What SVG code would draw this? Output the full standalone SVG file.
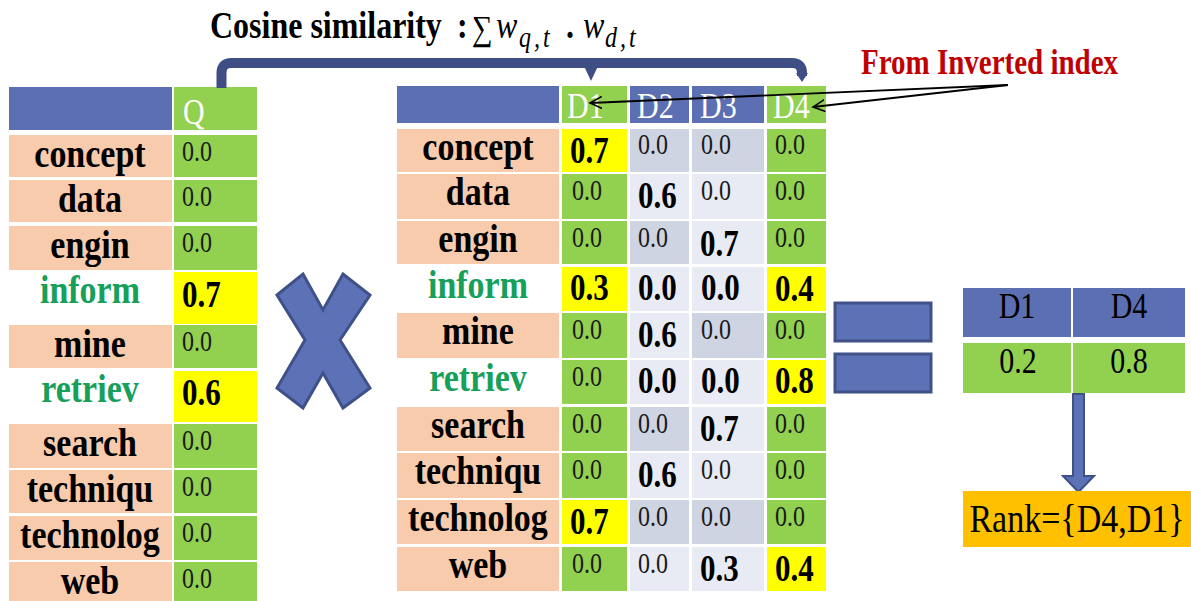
<svg xmlns="http://www.w3.org/2000/svg" width="1191" height="601" viewBox="0 0 1191 601">
<style>
text { font-family: "Liberation Serif", "Times New Roman", "DejaVu Serif", serif; transform-box: fill-box; transform-origin: 50% 80.5%; transform: scaleY(1.2); }
.hd { fill: #5B6FB2; }
.gr { fill: #92D050; }
.ye { fill: #FFFF00; }
.pe { fill: #F7CBAC; }
.wh { fill: #FFFFFF; }
.dk { fill: #CFD4E3; }
.lt { fill: #E8EBF3; }
.lbl { font-size: 34px; font-weight: bold; fill: #000; text-anchor: middle; }
.lg { fill: #16A05A; }
.th { font-size: 24px; fill: #1a1a1a; }
.bd { font-size: 31px; font-weight: bold; fill: #000; }
.ht { font-size: 30px; fill: #FFFFFF; }
.rt { font-size: 30px; fill: #000; text-anchor: middle; }
.shape { fill: #5D72B6; stroke: #3F5188; stroke-width: 3; }
.brace { fill: none; stroke: #3F4E85; stroke-width: 10; }
.ptr { fill: none; stroke: #000; stroke-width: 1.8; }
</style>
<defs>
<marker id="open" markerWidth="14" markerHeight="14" refX="12" refY="6" orient="auto" markerUnits="userSpaceOnUse">
<path d="M0,0 L12,6 L0,12" fill="none" stroke="#000" stroke-width="1.6"/>
</marker>
</defs>
<rect width="1191" height="601" fill="#FFFFFF"/>

<g id="title">
<text x="210" y="38" style="font-size:32px;font-weight:bold">Cosine similarity</text>
<text x="457" y="38" style="font-size:32px;font-weight:bold">:</text>
<text x="472" y="40" style="font-size:29px">∑</text>
<text x="496" y="38" style="font-size:32px;font-style:italic">w</text>
<text x="519" y="47" style="font-size:24px;font-style:italic;letter-spacing:3px">q,t</text>
<text x="566" y="38" style="font-size:32px;font-weight:bold">.</text>
<text x="583" y="38" style="font-size:32px;font-style:italic">w</text>
<text x="605" y="47" style="font-size:24px;font-style:italic;letter-spacing:3px">d,t</text>
</g>

<g id="label-inverted">
<text x="861" y="74" style="font-size:29px;font-weight:bold;fill:#C00000">From Inverted index</text>
</g>

<g id="query-table">
<rect class="hd" x="9" y="87" width="163" height="43"/>
<rect class="gr" x="174" y="87" width="83" height="43"/>
<text class="ht" x="183" y="124">Q</text>

<rect class="pe" x="9" y="135" width="163" height="42"/><rect class="gr" x="174" y="135" width="83" height="42"/>
<text class="lbl" x="90" y="167">concept</text><text class="th" x="182" y="161">0.0</text>

<rect class="pe" x="9" y="180" width="163" height="42"/><rect class="gr" x="174" y="180" width="83" height="42"/>
<text class="lbl" x="90" y="212">data</text><text class="th" x="182" y="206">0.0</text>

<rect class="pe" x="9" y="226" width="163" height="44"/><rect class="gr" x="174" y="226" width="83" height="44"/>
<text class="lbl" x="90" y="258">engin</text><text class="th" x="182" y="252">0.0</text>

<rect class="wh" x="9" y="271" width="163" height="53"/><rect class="ye" x="174" y="272" width="83" height="52"/>
<text class="lbl lg" x="90" y="303">inform</text><text class="bd" x="182" y="307">0.7</text>

<rect class="pe" x="9" y="325" width="163" height="43"/><rect class="gr" x="174" y="325" width="83" height="43"/>
<text class="lbl" x="90" y="357">mine</text><text class="th" x="182" y="351">0.0</text>

<rect class="wh" x="9" y="370" width="163" height="52"/><rect class="ye" x="174" y="371" width="83" height="51"/>
<text class="lbl lg" x="90" y="402">retriev</text><text class="bd" x="182" y="405">0.6</text>

<rect class="pe" x="9" y="424" width="163" height="44"/><rect class="gr" x="174" y="424" width="83" height="44"/>
<text class="lbl" x="90" y="456">search</text><text class="th" x="182" y="450">0.0</text>

<rect class="pe" x="9" y="470" width="163" height="43"/><rect class="gr" x="174" y="470" width="83" height="43"/>
<text class="lbl" x="90" y="502">techniqu</text><text class="th" x="182" y="496">0.0</text>

<rect class="pe" x="9" y="516" width="163" height="44"/><rect class="gr" x="174" y="516" width="83" height="44"/>
<text class="lbl" x="90" y="548">technolog</text><text class="th" x="182" y="542">0.0</text>

<rect class="pe" x="9" y="562" width="163" height="39"/><rect class="gr" x="174" y="562" width="83" height="39"/>
<text class="lbl" x="90" y="594">web</text><text class="th" x="182" y="588">0.0</text>
</g>

<g id="times-sign">
<polygon class="shape" points="277,295 303,274 323,310 343,274 370,295 340,340 370,388 343,408 323,373 303,408 277,388 305,340"/>
</g>

<g id="doc-table">
<rect class="hd" x="397" y="86" width="162" height="37"/>
<rect class="gr" x="562" y="86" width="65" height="37"/>
<rect class="hd" x="630" y="86" width="59" height="37"/>
<rect class="hd" x="692" y="86" width="72" height="37"/>
<rect class="gr" x="767" y="86" width="59" height="37"/>
<text class="ht" x="567" y="118">D1</text>
<text class="ht" x="637" y="118">D2</text>
<text class="ht" x="700" y="118">D3</text>
<text class="ht" x="773" y="118">D4</text>

<!-- concept -->
<rect class="pe" x="397" y="129" width="162" height="43"/><rect class="ye" x="562" y="129" width="65" height="43"/><rect class="dk" x="630" y="129" width="59" height="43"/><rect class="dk" x="692" y="129" width="72" height="43"/><rect class="gr" x="767" y="129" width="59" height="43"/>
<text class="lbl" x="478" y="160">concept</text><text class="bd" x="570" y="163">0.7</text><text class="th" x="638" y="154">0.0</text><text class="th" x="701" y="154">0.0</text><text class="th" x="775" y="154">0.0</text>
<!-- data -->
<rect class="pe" x="397" y="174" width="162" height="45"/><rect class="gr" x="562" y="174" width="65" height="45"/><rect class="lt" x="630" y="174" width="59" height="45"/><rect class="lt" x="692" y="174" width="72" height="45"/><rect class="gr" x="767" y="174" width="59" height="45"/>
<text class="lbl" x="478" y="205">data</text><text class="th" x="572" y="200">0.0</text><text class="bd" x="638" y="208">0.6</text><text class="th" x="701" y="200">0.0</text><text class="th" x="775" y="200">0.0</text>
<!-- engin -->
<rect class="pe" x="397" y="221" width="162" height="43"/><rect class="gr" x="562" y="221" width="65" height="43"/><rect class="dk" x="630" y="221" width="59" height="43"/><rect class="lt" x="692" y="221" width="72" height="43"/><rect class="gr" x="767" y="221" width="59" height="43"/>
<text class="lbl" x="478" y="252">engin</text><text class="th" x="572" y="247">0.0</text><text class="th" x="638" y="247">0.0</text><text class="bd" x="700" y="256">0.7</text><text class="th" x="775" y="247">0.0</text>
<!-- inform -->
<rect class="wh" x="397" y="267" width="162" height="44"/><rect class="ye" x="562" y="267" width="65" height="44"/><rect class="lt" x="630" y="267" width="59" height="44"/><rect class="lt" x="692" y="267" width="72" height="44"/><rect class="ye" x="767" y="267" width="59" height="44"/>
<text class="lbl lg" x="478" y="298">inform</text><text class="bd" x="570" y="300">0.3</text><text class="bd" x="638" y="300">0.0</text><text class="bd" x="701" y="300">0.0</text><text class="bd" x="775" y="301">0.4</text>
<!-- mine -->
<rect class="pe" x="397" y="313" width="162" height="45"/><rect class="gr" x="562" y="313" width="65" height="45"/><rect class="lt" x="630" y="313" width="59" height="45"/><rect class="dk" x="692" y="313" width="72" height="45"/><rect class="gr" x="767" y="313" width="59" height="45"/>
<text class="lbl" x="478" y="344">mine</text><text class="th" x="572" y="339">0.0</text><text class="bd" x="638" y="347">0.6</text><text class="th" x="701" y="339">0.0</text><text class="th" x="775" y="339">0.0</text>
<!-- retriev -->
<rect class="wh" x="397" y="360" width="162" height="44"/><rect class="gr" x="562" y="360" width="65" height="44"/><rect class="lt" x="630" y="360" width="59" height="44"/><rect class="lt" x="692" y="360" width="72" height="44"/><rect class="ye" x="767" y="360" width="59" height="44"/>
<text class="lbl lg" x="478" y="391">retriev</text><text class="th" x="572" y="386">0.0</text><text class="bd" x="638" y="393">0.0</text><text class="bd" x="701" y="393">0.0</text><text class="bd" x="775" y="393">0.8</text>
<!-- search -->
<rect class="pe" x="397" y="407" width="162" height="44"/><rect class="gr" x="562" y="407" width="65" height="44"/><rect class="dk" x="630" y="407" width="59" height="44"/><rect class="lt" x="692" y="407" width="72" height="44"/><rect class="gr" x="767" y="407" width="59" height="44"/>
<text class="lbl" x="478" y="438">search</text><text class="th" x="572" y="433">0.0</text><text class="th" x="638" y="433">0.0</text><text class="bd" x="700" y="441">0.7</text><text class="th" x="775" y="433">0.0</text>
<!-- techniqu -->
<rect class="pe" x="397" y="453" width="162" height="45"/><rect class="gr" x="562" y="453" width="65" height="45"/><rect class="lt" x="630" y="453" width="59" height="45"/><rect class="lt" x="692" y="453" width="72" height="45"/><rect class="gr" x="767" y="453" width="59" height="45"/>
<text class="lbl" x="478" y="484">techniqu</text><text class="th" x="572" y="479">0.0</text><text class="bd" x="638" y="487">0.6</text><text class="th" x="701" y="479">0.0</text><text class="th" x="775" y="479">0.0</text>
<!-- technolog -->
<rect class="pe" x="397" y="500" width="162" height="44"/><rect class="ye" x="562" y="500" width="65" height="44"/><rect class="dk" x="630" y="500" width="59" height="44"/><rect class="dk" x="692" y="500" width="72" height="44"/><rect class="gr" x="767" y="500" width="59" height="44"/>
<text class="lbl" x="478" y="531">technolog</text><text class="bd" x="570" y="534">0.7</text><text class="th" x="638" y="526">0.0</text><text class="th" x="701" y="526">0.0</text><text class="th" x="775" y="526">0.0</text>
<!-- web -->
<rect class="pe" x="397" y="547" width="162" height="44"/><rect class="gr" x="562" y="547" width="65" height="44"/><rect class="lt" x="630" y="547" width="59" height="44"/><rect class="lt" x="692" y="547" width="72" height="44"/><rect class="ye" x="767" y="547" width="59" height="44"/>
<text class="lbl" x="478" y="578">web</text><text class="th" x="572" y="573">0.0</text><text class="th" x="638" y="573">0.0</text><text class="bd" x="700" y="581">0.3</text><text class="bd" x="775" y="581">0.4</text>
</g>

<g id="equals-sign">
<rect class="shape" x="835" y="303" width="96" height="38"/>
<rect class="shape" x="835" y="354" width="96" height="38"/>
</g>

<g id="result-table">
<rect class="hd" x="963" y="288" width="108" height="49"/>
<rect class="hd" x="1073" y="288" width="112" height="49"/>
<rect class="gr" x="963" y="343" width="108" height="50"/>
<rect class="gr" x="1073" y="343" width="112" height="50"/>
<text class="rt" x="1017" y="318">D1</text>
<text class="rt" x="1129" y="318">D4</text>
<text class="rt" x="1018" y="373">0.2</text>
<text class="rt" x="1129" y="373">0.8</text>
</g>

<g id="down-arrow">
<polygon class="shape" style="stroke-width:2" points="1073,394 1084,394 1084,476 1094,476 1078.5,492 1063,476 1073,476"/>
</g>

<g id="rank-box">
<rect x="963" y="491" width="228" height="56" fill="#FFC000"/>
<text x="1077" y="532" style="font-size:34px;text-anchor:middle">Rank={D4,D1}</text>
</g>

<g id="connectors">
<path class="brace" d="M221.5 88 V73 Q221.5 63 231.5 63 H792 Q802 63 802 73 V76"/>
<polygon points="584,66 598,66 591,81" fill="#3F4E85"/>
<polygon points="796,73 808,73 802,82" fill="#3F4E85"/>
<line class="ptr" x1="1008" y1="85" x2="590" y2="103" marker-end="url(#open)"/>
<line class="ptr" x1="1008" y1="85" x2="813" y2="107" marker-end="url(#open)"/>
</g>
</svg>
